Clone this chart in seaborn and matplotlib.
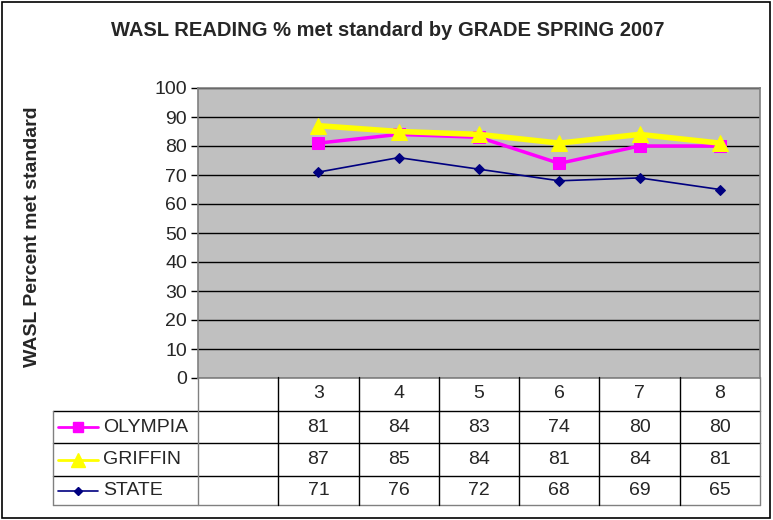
import numpy as np
import pandas as pd
import seaborn as sns
from matplotlib import pyplot as plt
from matplotlib.patches import Rectangle
from matplotlib.lines import Line2D

grades = ["3", "4", "5", "6", "7", "8"]
olympia = [81, 84, 83, 74, 80, 80]
griffin = [87, 85, 84, 81, 84, 81]
state = [71, 76, 72, 68, 69, 65]
series_names = ["OLYMPIA", "GRIFFIN", "STATE"]

sns.set_style("white")
plt.rcParams['font.family'] = ['Liberation Sans', 'DejaVu Sans']

W, H = 773, 520
fig = plt.figure(figsize=(W / 100, H / 100), dpi=100)

def fx(px):
    return px / W

def fy(py):
    return 1 - py / H

# plot area in pixels
pl, pr, pt, pb = 198, 760, 88, 378
unit = (pr - pl) / 7.0
ax = fig.add_axes([fx(pl), fy(pb), fx(pr - pl), (pb - pt) / H])
ax.set_facecolor("#C0C0C0")

df = pd.DataFrame({
    "pos": list(range(len(grades))) * 3,
    "value": olympia + griffin + state,
    "series": sum([[s] * len(grades) for s in series_names], []),
})

styles = {
    "OLYMPIA": dict(color="#FF00FF", marker="s", markersize=9, linewidth=2.5),
    "GRIFFIN": dict(color="#FFFF00", marker="^", markersize=12, linewidth=4),
    "STATE": dict(color="#000080", marker="D", markersize=5.5, linewidth=1.2),
}
for name in ["STATE", "OLYMPIA", "GRIFFIN"]:
    st = styles[name]
    sns.lineplot(data=df[df["series"] == name], x="pos", y="value", ax=ax,
                 color=st["color"], marker=st["marker"], markersize=st["markersize"],
                 linewidth=st["linewidth"], markeredgecolor=st["color"],
                 legend=False, zorder=3)

fs = 14
ax.set_xlim(-1.5, 5.5)
ax.set_ylim(0, 100)
ax.set_yticks(range(0, 101, 10))
ax.yaxis.grid(True, color="black", linewidth=1)
ax.set_axisbelow(True)
ax.set_xticks([])
ax.set_xlabel("")
ax.set_ylabel("")
ax.tick_params(axis="y", left=True, length=5, width=1, color="black",
               labelsize=fs, pad=3)
for sp in ax.spines.values():
    sp.set_color("#808080")
    sp.set_linewidth(1.2)

fig.text(fx(33), fy(237), "WASL Percent met standard", rotation=90,
         ha="center", va="center", fontsize=14, fontweight="bold")
fig.text(fx(388), fy(30), "WASL READING % met standard by GRADE SPRING 2007",
         ha="center", va="center", fontsize=14.5, fontweight="bold")

# data table
tl = 53
row_y = [377, 411, 443, 476, 505]
tax = fig.add_axes([fx(tl), fy(row_y[-1]), fx(pr - tl), (row_y[-1] - row_y[0]) / H])
tax.set_xlim(-1.5 - (pl - tl) / unit, 5.5)
tax.set_ylim(row_y[-1], row_y[0])
tax.axis("off")
xl = tax.get_xlim()[0]

def hline(y, x0, x1, c="black"):
    tax.add_line(Line2D([x0, x1], [y, y], color=c, linewidth=1, clip_on=False))

def vline(x, y0, y1, c="black"):
    tax.add_line(Line2D([x, x], [y0, y1], color=c, linewidth=1, clip_on=False))

hline(row_y[1], xl, 5.5)
hline(row_y[2], xl, 5.5)
hline(row_y[3], xl, 5.5)
hline(row_y[4], xl, 5.5, c="#808080")
vline(xl, row_y[1], row_y[4], c="#808080")
vline(-1.5, row_y[0], row_y[4], c="#808080")
vline(5.5, row_y[0], row_y[4], c="#808080")
for k in range(6):
    vline(-0.5 + k, row_y[0], row_y[4])

for i, g in enumerate(grades):
    tax.text(i, (row_y[0] + row_y[1]) / 2, g, ha="center", va="center", fontsize=fs)

for r, (name, vals) in enumerate(zip(series_names, [olympia, griffin, state])):
    yc = (row_y[r + 1] + row_y[r + 2]) / 2
    for i, v in enumerate(vals):
        tax.text(i, yc, str(v), ha="center", va="center", fontsize=fs)
    st = styles[name]
    x0 = xl + 5 / unit
    x1 = xl + 45 / unit
    tax.add_line(Line2D([x0, x1], [yc, yc], color=st["color"],
                        linewidth=min(st["linewidth"], 2), clip_on=False))
    tax.plot([(x0 + x1) / 2], [yc], marker=st["marker"], color=st["color"],
             markersize=st["markersize"] * 0.8, clip_on=False)
    tax.text(xl + 50 / unit, yc, name, ha="left", va="center", fontsize=fs)

fig.patches.append(Rectangle((fx(2), fy(518)), fx(768), (516) / H, transform=fig.transFigure,
                             fill=False, edgecolor="black", linewidth=1.2))

fig.savefig("out.png", dpi=100)
